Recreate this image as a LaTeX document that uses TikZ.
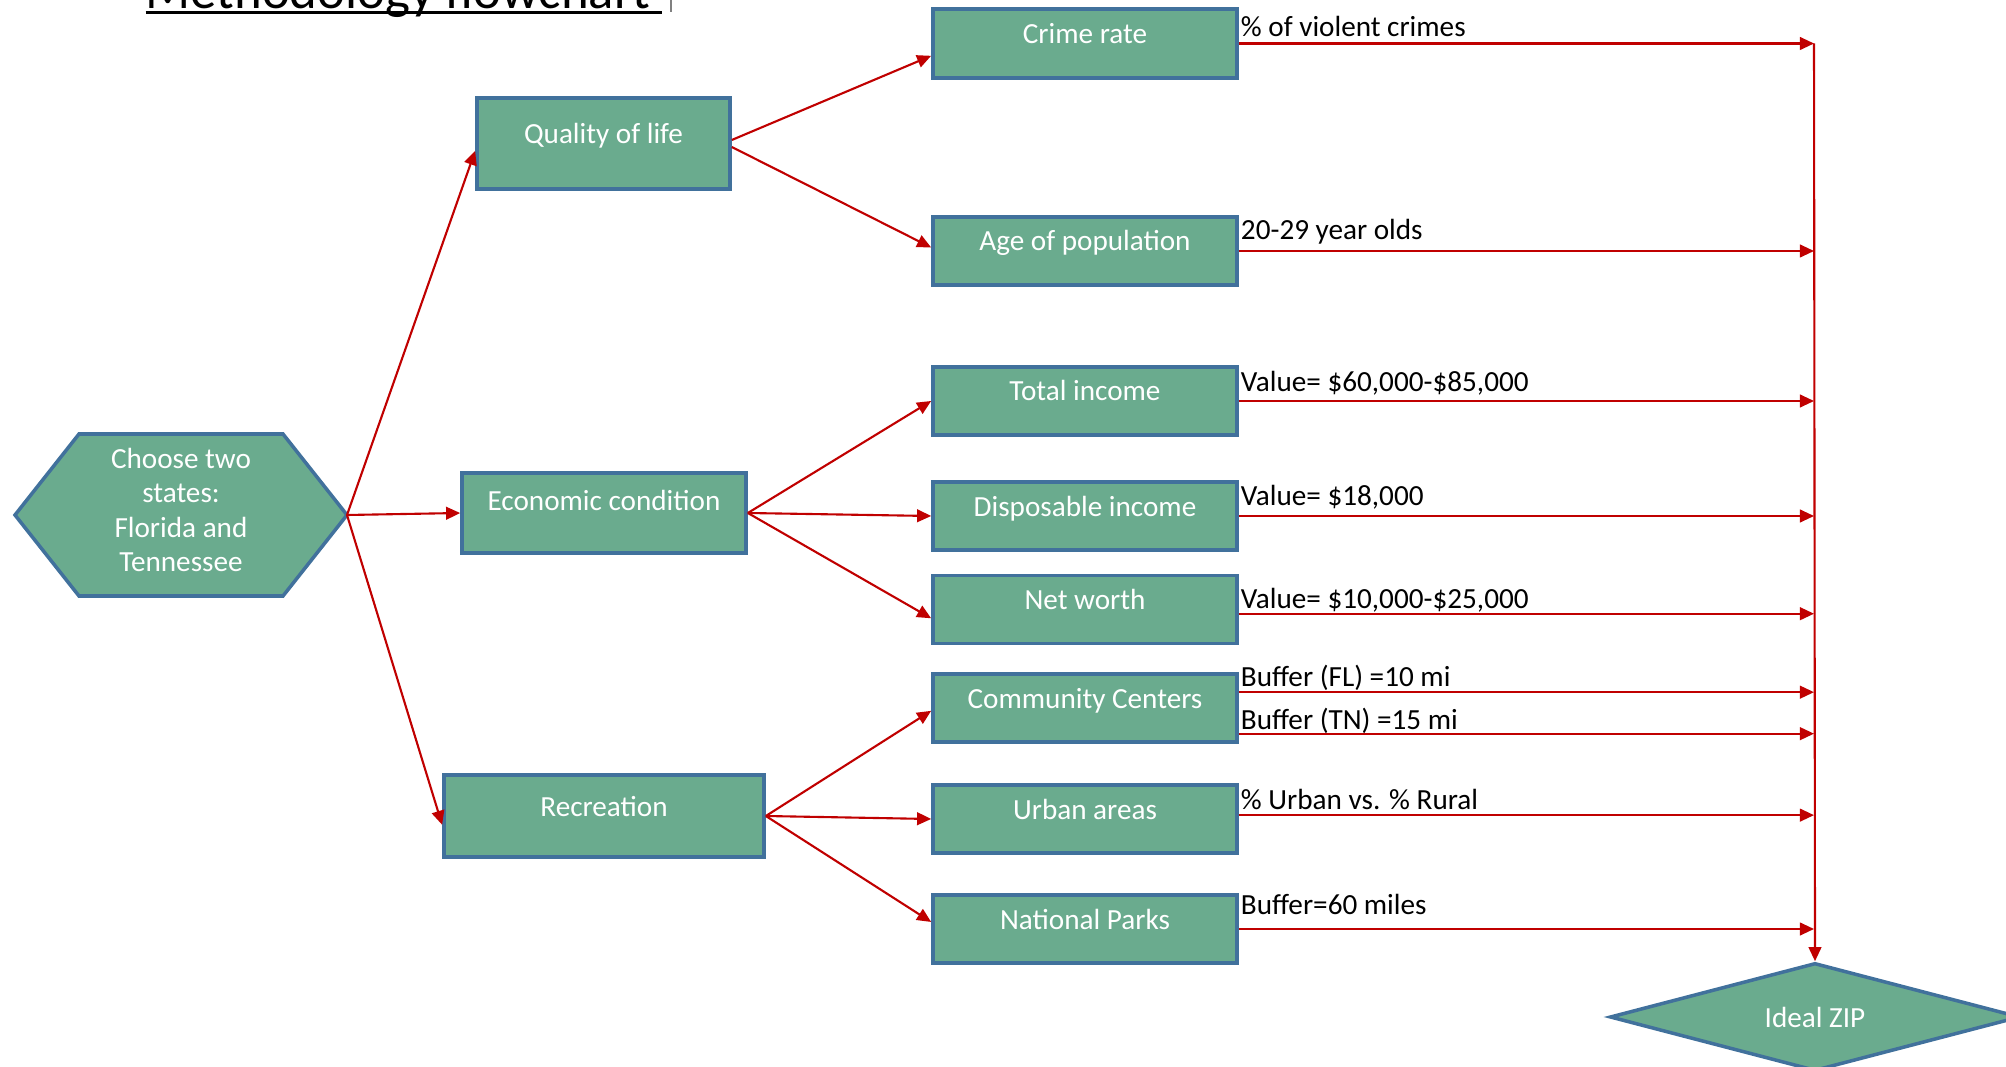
\documentclass[tikz,border=0pt]{standalone}
\usepackage{fontspec}
\setmainfont{Carlito}
\usetikzlibrary{arrows.meta,shapes.geometric}

\definecolor{boxgreen}{RGB}{106,171,142}
\definecolor{boxblue}{RGB}{65,113,156}
\definecolor{linkred}{RGB}{192,0,0}

\newcommand\boxfnt{\fontsize{8.3}{9.7}\selectfont}
\newcommand\ulin[1]{\setbox0\hbox{#1}\rlap{\rule[-1.4pt]{\wd0}{0.8pt}}\box0}

\begin{document}
\begin{tikzpicture}[x=0.01cm,y=-0.01cm,
        shp/.style={draw=boxblue, line width=1pt, fill=boxgreen},
        box/.style={shp, text=white, font=\boxfnt, inner sep=0pt, text height=6pt, text depth=6pt, minimum width=3.04cm, minimum height=0.68cm},
        link/.style={draw=linkred, line width=0.6pt, -{Triangle[length=4pt,width=3.6pt]}},
        lbl/.style={anchor=base west, inner sep=0pt, xshift=0.3pt, font=\boxfnt}]
        
        \useasboundingbox (0,0) rectangle (2006,1067);
        
        % title, cut by the top edge
        \node[anchor=base west, inner sep=0pt, font=\fontsize{15}{18}\selectfont, name=Title] at (145,9) {\ulin{Methodology flowchart\ }};
        \draw[line width=0.3pt, gray] (671,0) -- (671,12);
        
        % start
        \draw[shp] (15,515) -- (79,434) -- (283,434) -- (347,515) -- (283,596) -- (79,596) -- cycle;
        \node[name=St, text=white, align=center, font=\boxfnt, inner sep=0pt] at (181,510) {Choose two\\states:\\Florida and\\Tennessee};
        \coordinate (StR) at (347,515);
        
        % criteria
        \node[box, name=Qol, minimum width=2.53cm, minimum height=0.91cm] at (603.5,143.5) {Quality of life};
        \node[box, name=Eco, minimum width=2.84cm, minimum height=0.80cm, text depth=7.6pt] at (604,513) {Economic condition};
        \node[box, name=Rec, minimum width=3.20cm, minimum height=0.82cm] at (604,816) {Recreation};
        
        % variables
        \node[box, name=Crime, minimum height=0.69cm] at (1085,43.5) {Crime rate};
        \node[box, name=Age] at (1085,251) {Age of population};
        \node[box, name=Tinc] at (1085,401) {Total income};
        \node[box, name=Dinc] at (1085,516) {Disposable income};
        \node[box, name=Net] at (1085,609.5) {Net worth};
        \node[box, name=Comm] at (1085,708) {Community Centers};
        \node[box, name=Urb] at (1085,819) {Urban areas};
        \node[box, name=Park] at (1085,929) {National Parks};
        
        % result
        \node[shp, diamond, name=Zip, shape aspect=3.8, minimum width=4.1cm, minimum height=1.08cm, inner sep=0pt, text=white, font=\boxfnt] at (1815,1017) {Ideal ZIP};
        \coordinate (Vx) at (1814,0);
        
        %
        \draw[link] (StR) -- ([yshift=-2.1pt]Qol.west);
        \draw[link] (StR) -- (Eco.west);
        \draw[link] (StR) -- ([yshift=-2.5pt]Rec.west);
        %
        \draw[link] ([yshift=1pt]Qol.east) -- ([yshift=-3.5pt]Crime.west);
        \draw[link] ([yshift=-1pt]Qol.east) -- ([yshift=1pt]Age.west);
        \draw[link] (Eco.east) -- (Tinc.west);
        \draw[link] (Eco.east) -- (Dinc.west);
        \draw[link] (Eco.east) -- ([yshift=-2.5pt]Net.west);
        \draw[link] (Rec.east) -- ([yshift=-0.8pt]Comm.west);
        \draw[link] (Rec.east) -- (Urb.west);
        \draw[link] (Rec.east) -- ([yshift=2pt]Park.west);
        %
        \draw[link] (Crime.east) -- node[lbl, pos=0, yshift=2pt, name=Lcr] {\% of violent crimes} (Crime.east -| Vx);
        \draw[link] (Age.east) -- node[lbl, pos=0, yshift=3.4pt, name=Lag] {20-29 year olds} (Age.east -| Vx);
        \draw[link] (Tinc.east) -- node[lbl, pos=0, yshift=2.6pt, name=Lti] {Value= \$60,000-\$85,000} (Tinc.east -| Vx);
        \draw[link] (Dinc.east) -- node[lbl, pos=0, yshift=3.1pt, name=Ldi] {Value= \$18,000} (Dinc.east -| Vx);
        \draw[link] ([yshift=-1.2pt]Net.east) -- node[lbl, pos=0, yshift=1.5pt, name=Lnw] {Value= \$10,000-\$25,000} ([yshift=-1.2pt]Net.east -| Vx);
        \draw[link] ([yshift=4.5pt]Comm.east) -- node[lbl, pos=0, yshift=1.7pt, name=Lfl] {Buffer (FL) =10 mi} ([yshift=4.5pt]Comm.east -| Vx);
        \draw[link] ([yshift=-7.3pt]Comm.east) -- node[lbl, pos=0, yshift=1.2pt, name=Ltn] {Buffer (TN) =15 mi} ([yshift=-7.3pt]Comm.east -| Vx);
        \draw[link] ([yshift=1.1pt]Urb.east) -- node[lbl, pos=0, yshift=1.5pt, name=Lur] {\% Urban vs. \% Rural} ([yshift=1.1pt]Urb.east -| Vx);
        \draw[link] (Park.east) -- node[lbl, pos=0, yshift=4pt, name=Lnp] {Buffer=60 miles} (Park.east -| Vx);
        %
        \draw[link] (Crime.east -| Vx) -- (Zip.north);
        
        \end{tikzpicture}
\end{document}
